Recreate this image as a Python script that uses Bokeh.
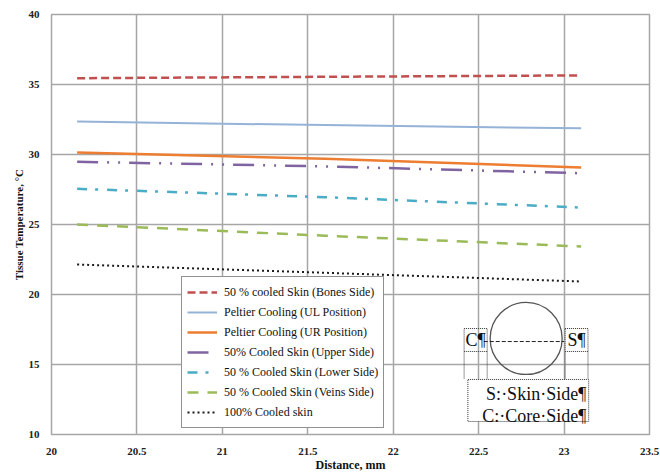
from bokeh.plotting import figure
from bokeh.models import Legend, LegendItem, FixedTicker
from bokeh.core.properties import value
from bokeh.embed import file_html
from bokeh.resources import INLINE

# ---- data ----
distance = [20.15, 21.6, 23.1]
bones_side = [35.45, 35.55, 35.65]
peltier_ul = [32.35, 32.1, 31.87]
peltier_ur = [30.14, 29.7, 29.07]
upper_side = [29.48, 29.15, 28.66]
lower_side = [27.55, 26.95, 26.21]
veins_side = [25.0, 24.2, 23.43]
cooled_100 = [22.14, 21.55, 20.93]

series_names = [
    "50 % cooled Skin (Bones Side)",
    "Peltier Cooling (UL Position)",
    "Peltier Cooling (UR Position)",
    "50% Cooled Skin (Upper Side)",
    "50 % Cooled Skin (Lower Side)",
    "50 % Cooled Skin (Veins Side)",
    "100% Cooled skin",
]
series_values = [bones_side, peltier_ul, peltier_ur, upper_side, lower_side, veins_side, cooled_100]

x_ticks = [20, 20.5, 21, 21.5, 22, 22.5, 23, 23.5]
x_tick_labels = ["20", "20.5", "21", "21.5", "22", "22.5", "23", "23.5"]
y_ticks = [10, 15, 20, 25, 30, 35, 40]
y_tick_labels = ["10", "15", "20", "25", "30", "35", "40"]

# ---- styles ----
colors = ["#c0504d", "#95b3d7", "#ed7d31", "#8064a2", "#4bacc6", "#9bbb59", "#1a1a1a"]
dashes = ["8 4", "solid", "solid", "21 9 2 9 2 9", "10 8 3 9", "11 9", "2 3"]
widths = [2.5, 2, 2.5, 2.5, 2.5, 2.5, 2]

SERIF = "Liberation Serif"

p = figure(width=660, height=474, x_range=(20, 23.5), y_range=(10, 40),
           output_backend="svg", toolbar_location=None,
           min_border_left=51, min_border_right=11, min_border_top=14, min_border_bottom=40)
p.background_fill_color = "white"
p.border_fill_color = "white"
p.outline_line_color = "#a6a6a6"
p.outline_line_width = 1.5

for ax in (p.xaxis[0], p.yaxis[0]):
    ax.axis_line_color = None
    ax.major_tick_line_color = None
    ax.minor_tick_line_color = None
    ax.major_label_text_font = SERIF
    ax.major_label_text_font_style = "bold"
    ax.major_label_text_font_size = "11px"
    ax.major_label_text_color = "#222222"
    ax.axis_label_text_font = SERIF
    ax.axis_label_text_font_style = "bold"
    ax.axis_label_text_font_size = "11px"
    ax.axis_label_text_color = "#111111"

p.xaxis.ticker = FixedTicker(ticks=x_ticks)
p.xaxis.major_label_overrides = {t: l for t, l in zip(x_ticks, x_tick_labels)}
p.yaxis.ticker = FixedTicker(ticks=y_ticks)
p.yaxis.major_label_overrides = {t: l for t, l in zip(y_ticks, y_tick_labels)}
p.xaxis.axis_label = "Distance, mm"
p.yaxis.axis_label = "Tissue Temperature, °C"
p.xaxis.axis_label_text_font_size = "12px"
p.xaxis.major_label_standoff = 7
p.xaxis.axis_label_standoff = 0
p.yaxis.major_label_standoff = 6
p.yaxis.axis_label_standoff = 1

p.xgrid.grid_line_color = "#a6a6a6"
p.ygrid.grid_line_color = "#a6a6a6"
p.xgrid.grid_line_width = 1.5
p.ygrid.grid_line_width = 1.5

items = []
for name, vals, c, d, w in zip(series_names, series_values, colors, dashes, widths):
    r = p.line(distance, vals, line_color=c, line_dash=d, line_width=w)
    items.append(LegendItem(label=name, renderers=[r]))

legend = Legend(items=items, location=(130, 6))
legend.label_text_font = SERIF
legend.label_text_font_size = "12px"
legend.label_text_color = "#111111"
legend.label_height = 20
legend.glyph_height = 20
legend.glyph_width = 30
legend.label_standoff = 7
legend.spacing = 0
legend.padding = 5
legend.margin = 0
legend.border_line_color = "#222222"
legend.border_line_width = 1.5
legend.background_fill_alpha = 1
p.add_layout(legend, "center")

# ---- inset annotation (schematic) ----
p.scatter([22.778], [16.86], marker="circle", size=72, fill_color=None,
          line_color="#555555", line_width=1.3)
p.line([22.53, 23.0], [16.64, 16.64], line_color="#222222", line_dash="4 2", line_width=1)
for x0, x1 in ((22.415, 22.55), (23.006, 23.14)):
    p.line([x0, x1, x1, x0, x0], [17.57, 17.57, 15.93, 15.93, 17.57],
           line_color="#333333", line_dash="1 1", line_width=1)
    p.line([x0, x0], [15.93, 13.93], line_color="#333333", line_dash="1 1", line_width=1)
    p.line([x1, x1], [15.93, 13.93], line_color="#333333", line_dash="1 1", line_width=1)
p.quad(left=[22.437], right=[23.144], top=[13.93], bottom=[10.93], fill_color="white",
       line_color="#333333", line_dash="1 1", line_width=1)
p.text(x=[22.482, 23.073], y=[16.74, 16.74], text=["C¶", "S¶"], text_font=value(SERIF),
       text_font_size="18px", text_align="center", text_baseline="middle", text_color="#111111")
p.text(x=[23.13, 23.13], y=[12.9, 11.35], text=["S:·Skin·Side¶", "C:·Core·Side¶"],
       text_font=value(SERIF), text_font_size="18px", text_align="right",
       text_baseline="middle", text_color="#111111")

open("out.html", "w").write(file_html(p, INLINE))
